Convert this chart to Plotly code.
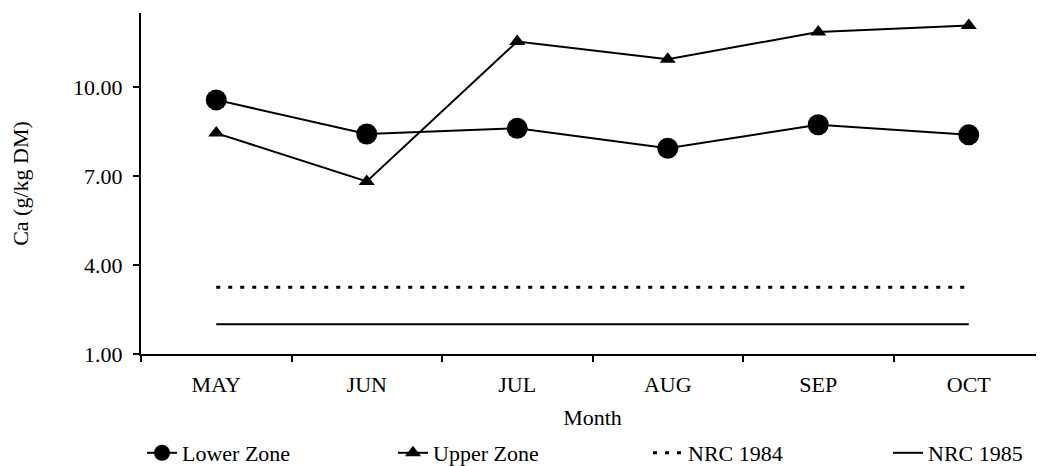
import plotly.graph_objects as go

months = ["MAY", "JUN", "JUL", "AUG", "SEP", "OCT"]
lower_zone = [9.57, 8.42, 8.61, 7.94, 8.73, 8.39]
upper_zone = [8.45, 6.82, 11.54, 10.94, 11.86, 12.08]
nrc_1984 = [3.25, 3.25, 3.25, 3.25, 3.25, 3.25]
nrc_1985 = [2.0, 2.0, 2.0, 2.0, 2.0, 2.0]
y_ticks = [1, 4, 7, 10]

FONT = "Liberation Serif"
FS = 22
W, H = 1036, 458

fig = go.Figure()
fig.add_trace(go.Scatter(x=months, y=lower_zone, name="Lower Zone", mode="lines+markers",
                         line=dict(color="black", width=2),
                         marker=dict(symbol="circle", size=21, color="black"),
                         legend="legend"))
fig.add_trace(go.Scatter(x=months, y=upper_zone, name="Upper Zone", mode="lines+markers",
                         line=dict(color="black", width=2),
                         marker=dict(symbol="triangle-up", size=14, color="black"),
                         legend="legend2"))
fig.add_trace(go.Scatter(x=months, y=nrc_1984, name="NRC 1984", mode="lines",
                         line=dict(color="black", width=3, dash="4px,8px"),
                         legend="legend3"))
fig.add_trace(go.Scatter(x=months, y=nrc_1985, name="NRC 1985", mode="lines",
                         line=dict(color="black", width=2),
                         legend="legend4"))


def leg(xpx):
    return dict(orientation="h", xref="container", yref="container",
                x=xpx / W, y=13 / H, xanchor="left", yanchor="middle",
                font=dict(family=FONT, size=FS), itemsizing="trace",
                bgcolor="rgba(0,0,0,0)")


fig.update_layout(
    width=W, height=H,
    margin=dict(l=133, r=0, t=5, b=112, autoexpand=False),
    paper_bgcolor="white", plot_bgcolor="white",
    font=dict(family=FONT, size=FS, color="black"),
    showlegend=True,
    legend=leg(134), legend2=leg(385), legend3=leg(640), legend4=leg(880),
)
fig.update_xaxes(
    type="category", range=[-0.5, 5.5], automargin=False,
    showline=True, linecolor="black", linewidth=2,
    ticks="outside", tickson="boundaries", ticklen=6, tickwidth=2, tickcolor="black",
    showgrid=False, zeroline=False, ticklabelstandoff=10,
    title=dict(text="Month", standoff=13, font=dict(family=FONT, size=FS)),
)
fig.update_yaxes(
    range=[1, 12.5], tickvals=y_ticks, tickformat=".2f", automargin=False,
    showline=True, linecolor="black", linewidth=2,
    ticks="outside", ticklen=6, tickwidth=2, tickcolor="black",
    showgrid=False, zeroline=False, ticklabelstandoff=6,
    title=dict(text="Ca (g/kg DM)", standoff=38, font=dict(family=FONT, size=FS)),
)

fig.write_html("out.html")
